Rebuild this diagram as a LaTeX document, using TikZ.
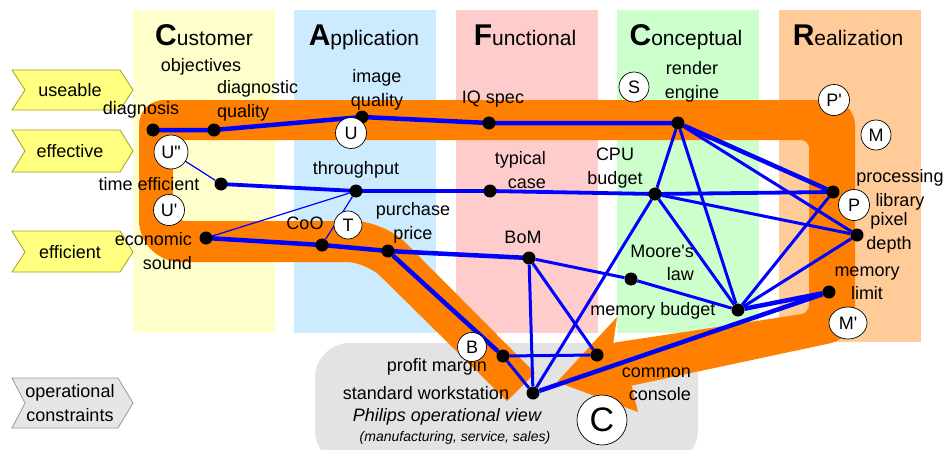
\documentclass[tikz,border=0pt]{standalone}
\usepackage{fontspec}
\setmainfont{Liberation Sans}[Ligatures=TeXOff]
\usetikzlibrary{shapes.geometric}
\pgfdeclarelayer{bg}
\pgfdeclarelayer{edges}
\pgfsetlayers{bg,edges,main}
\definecolor{colC}{HTML}{FFFFCC}
\definecolor{colA}{HTML}{CCEBFF}
\definecolor{colF}{HTML}{FFCCCC}
\definecolor{colK}{HTML}{CCFFCC}
\definecolor{colR}{HTML}{FFCC99}
\definecolor{orng}{HTML}{FF8000}
\definecolor{grayreg}{HTML}{E3E3E3}
\definecolor{chevfill}{HTML}{FFFF80}
\definecolor{chevline}{HTML}{A89F20}
\definecolor{chevgray}{HTML}{E6E6E6}
\definecolor{chevgrayline}{HTML}{9A9A9A}
\definecolor{linkblue}{HTML}{0000FF}
\newcommand\colhead[2]{{\fontsize{30}{30}\selectfont\bfseries #1}{\fontsize{21}{21}\selectfont #2}}
\begin{document}
\begin{tikzpicture}[x=1pt,y=-1pt,
  lbl/.style={font=\fontsize{18}{23.5}\selectfont, inner sep=0pt, align=center},
  dot/.style={circle, fill=black, inner sep=0pt, minimum size=13pt},
  tagc/.style={circle, draw=black, fill=white, line width=0.7pt, inner sep=0pt, minimum size=31pt, font=\fontsize{18}{20}\selectfont},
  chevY/.style={fill=chevfill, draw=chevline, line width=0.8pt},
  chevG/.style={fill=chevgray, draw=chevgrayline, line width=0.8pt},
  wthick/.style={draw=linkblue, line width=4.5pt, line join=round},
  wmid/.style={draw=linkblue, line width=3.8pt, line join=round},
  wnorm/.style={draw=linkblue, line width=3pt},
  wthin/.style={draw=linkblue, line width=1.2pt}
]
\useasboundingbox (0,0) rectangle (946,450);
\clip (0,0) rectangle (946,450);

% ---------- background ----------
\begin{pgfonlayer}{bg}
\fill[white] (0,0) rectangle (946,450);
\fill[colC] (133,10) rectangle (275,333);
\fill[colA] (294,10) rectangle (436,333);
\fill[colF] (456,10) rectangle (598,333);
\fill[colK] (617,10) rectangle (759,333);
\fill[colR] (779,10) rectangle (921,342);
\fill[grayreg, rounded corners=35pt] (315,343) rectangle (698,465);
% orange thread
\fill[orng] (612,343) [rounded corners=8pt] -- (809,313) -- (809,140) -- (173,140)
  [rounded corners=12pt] -- (173,221) [rounded corners=30pt] -- (384,221)
  [sharp corners] -- (535,373) -- (507,401) [rounded corners=20pt] -- (366,262)
  [rounded corners=42pt] -- (139,262) [rounded corners=25pt] -- (139,100) -- (855,100)
  -- (855,338) [sharp corners] -- (630,386) -- cycle;
\fill[orng] (557,382) -- (617,317) -- (613,345) -- (632,387) -- (638,412) -- cycle;
% chevrons
\draw[chevY] (12,70) -- (120,70) -- (133,90) -- (120,110) -- (12,110) -- (25,90) -- cycle;
\draw[chevY] (12,130) -- (120,130) -- (133,151) -- (120,172) -- (12,172) -- (25,151) -- cycle;
\draw[chevY] (12,231) -- (120,231) -- (133,252) -- (120,272) -- (12,272) -- (25,252) -- cycle;
\draw[chevG] (12,378) -- (118,378) -- (133,403) -- (118,428) -- (12,428) -- (25,403) -- cycle;
\end{pgfonlayer}

% ---------- headers ----------
\node[anchor=base, inner sep=0pt] (hC) at (204,45) {\colhead{C}{ustomer}};
\node[anchor=base, inner sep=0pt] (hA) at (364,45) {\colhead{A}{pplication}};
\node[anchor=base, inner sep=0pt] (hF) at (525,45) {\colhead{F}{unctional}};
\node[anchor=base, inner sep=0pt] (hK) at (686,45) {\colhead{C}{onceptual}};
\node[anchor=base, inner sep=0pt] (hR) at (848,45) {\colhead{R}{ealization}};
\node[lbl] (hCo) at (201,67) {objectives};

% chevron labels
\node[lbl] (cu) at (70,90) {useable};
\node[lbl] (ce) at (70,151) {effective};
\node[lbl] (cf) at (70,252) {efficient};
\node[lbl] (co) at (70,403) {operational\\constraints};

% ---------- dots ----------
\node[dot] (diag) at (153,130) {};
\node[dot] (dq) at (214,130) {};
\node[dot] (iq) at (362,117) {};
\node[dot] (iqs) at (489,123) {};
\node[dot] (re) at (678,123) {};
\node[dot] (te) at (221,184) {};
\node[dot] (tp) at (356,191) {};
\node[dot] (tc) at (490,191) {};
\node[dot] (cpu) at (655,194) {};
\node[dot] (pl) at (833,192) {};
\node[dot] (es) at (206,238) {};
\node[dot] (coo) at (322,245) {};
\node[dot] (pp) at (388,251) {};
\node[dot] (bom) at (529,258) {};
\node[dot] (moore) at (631,279) {};
\node[dot] (mb) at (738,310) {};
\node[dot] (pd) at (857,235) {};
\node[dot] (mlim) at (829,292) {};
\node[dot] (pm) at (503,356) {};
\node[dot] (sw) at (533,393) {};
\node[dot] (cc) at (597,355) {};

% ---------- labels ----------
\node[lbl] (Ldiag) at (141,110) {diagnosis};
\node[lbl, align=left, anchor=west] (Ldq) at (217,101) {diagnostic\\quality};
\node[lbl] (Liq) at (377,90) {image\\quality};
\node[lbl] (Liqs) at (493,99) {IQ spec};
\node[lbl] (Lre) at (692,82) {render\\engine};
\node[lbl] (Lte) at (149,184) {time efficient};
\node[lbl] (Ltp) at (356,170) {throughput};
\node[lbl, align=right, anchor=east] (Ltc) at (546,170) {typical\\case};
\node[lbl] (Lcpu) at (615,168) {CPU\\budget};
\node[lbl] (Lpl) at (900,190) {processing\\library};
\node[lbl] (Lpd) at (889,233) {pixel\\depth};
\node[lbl] (Lmlim) at (867,283) {memory\\limit};
\node[lbl] (Lmb) at (653,311) {memory budget};
\node[lbl, align=right, anchor=east] (Lmoore) at (694,263) {Moore's\\law};
\node[lbl] (Lbom) at (523,237) {BoM};
\node[lbl] (Lcoo) at (305,223) {CoO};
\node[lbl] (Lpp) at (413,223) {purchase\\price};
\node[lbl, align=right, anchor=east] (Les) at (192,251) {economic\\sound};
\node[lbl] (Lpm) at (437,367) {profit margin};
\node[lbl] (Lsw) at (426,393) {standard workstation};
\node[lbl, align=right, anchor=east] (Lcc) at (691,384) {common\\console};
\node[lbl, font=\fontsize{18}{20}\selectfont\itshape] (Lpov) at (447,417) {Philips operational view};
\node[lbl, font=\fontsize{14}{16}\selectfont\itshape] (Lmss) at (455,438) {(manufacturing, service, sales)};

% ---------- tag circles ----------
\node[tagc] (tU) at (351,133) {U};
\node[tagc, minimum size=34pt] (tUpp) at (171,152) {U"};
\node[tagc] (tUp) at (169,210) {U'};
\node[tagc, minimum size=28pt] (tT) at (348,225) {T};
\node[tagc, minimum size=30pt] (tS) at (634,87) {S};
\node[tagc] (tPp) at (834,100) {P'};
\node[tagc, minimum size=30pt] (tM) at (876,135) {M};
\node[tagc] (tP) at (854,205) {P};
\node[tagc, ellipse, minimum width=38pt, minimum height=32pt] (tMp) at (848,323) {M'};
\node[tagc, minimum size=29pt] (tB) at (472,347) {B};
\node[tagc, minimum size=50pt, font=\fontsize{34}{36}\selectfont] (tC) at (602,420) {C};

% ---------- connectors ----------
\begin{pgfonlayer}{edges}
\draw[wthick] (diag.center) -- (dq.center) -- (iq.center) -- (iqs.center) -- (re.center);
\draw[wthick] (re) -- (pl);
\draw[wthick] (mb) -- (mlim);
\draw[wthick] (sw) -- (mlim);
\draw[wthick] (pp) -- (pm);
\draw[wthick] (es.center) -- (coo.center) -- (pp.center) -- (bom.center);
\draw[wmid] (te.center) -- (tp.center) -- (tc.center) -- (cpu.center) -- (pl.center);
\draw[wnorm] (bom) -- (moore);
\draw[wnorm] (moore) -- (mb);
\draw[wnorm] (pm) -- (sw);
\draw[wnorm] (pm) -- (cc);
\draw[wnorm] (bom) -- (sw);
\draw[wnorm] (bom) -- (cc);
\draw[wnorm] (sw) -- (cpu);
\draw[wnorm] (re) -- (cpu);
\draw[wnorm] (re) -- (mb);
\draw[wnorm] (re) -- (pd);
\draw[wnorm] (cpu) -- (mb);
\draw[wnorm] (cpu) -- (pd);
\draw[wnorm] (mb) -- (pl);
\draw[wnorm] (mb) -- (pd);
\draw[wthin] (tUpp) -- (te);
\draw[wthin] (es) -- (tp);
\draw[wthin] (coo) -- (tp);
\end{pgfonlayer}
\end{tikzpicture}
\end{document}
